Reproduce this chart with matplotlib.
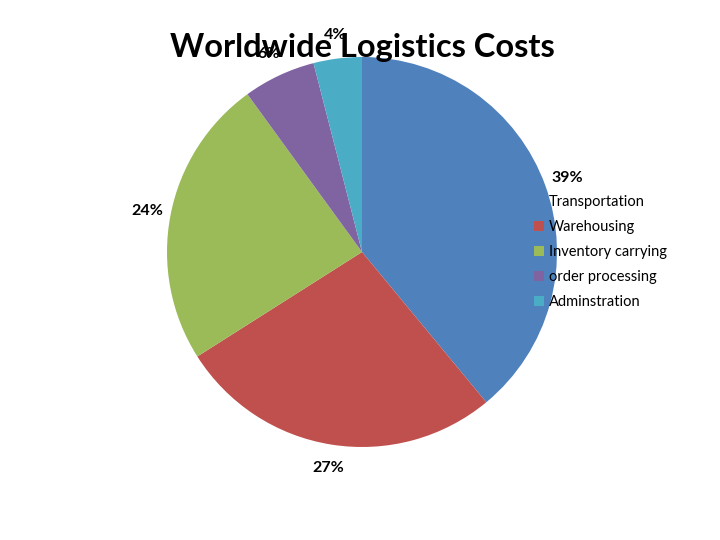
import matplotlib.pyplot as plt

# data
categories = ["Transportation", "Warehousing", "Inventory carrying",
              "order processing", "Adminstration"]
shares = [39, 27, 24, 6, 4]
colors = ["#4F81BD", "#C0504D", "#9BBB59", "#8064A2", "#4BACC6"]

plt.rcParams['font.family'] = ['Lato', 'DejaVu Sans']

fig = plt.figure(figsize=(7.2, 5.4), dpi=100)
ax = fig.add_axes([167 / 720, 93 / 540, 390 / 720, 390 / 540])

wedges, texts, autotexts = ax.pie(
    shares, colors=colors, startangle=90, counterclock=False,
    autopct='%1.0f%%', pctdistance=1.12,
    textprops={'fontsize': 11.5, 'fontweight': 'bold', 'color': 'black'})
ax.set_aspect('equal')
ax.set_xlim(-1, 1)
ax.set_ylim(-1, 1)

ax.legend(wedges, categories, loc='upper left',
          bbox_to_anchor=(534 / 720, 1 - 195 / 540),
          bbox_transform=fig.transFigure, frameon=False,
          fontsize=10.5, handlelength=0.7, handleheight=0.7,
          handletextpad=0.3, labelspacing=0.75, borderpad=0, borderaxespad=0)

fig.text(362 / 720, 1 - 48 / 540, "Worldwide Logistics Costs",
         ha='center', va='center', fontsize=23.5, fontweight='bold')

fig.savefig("out.png", dpi=100)
